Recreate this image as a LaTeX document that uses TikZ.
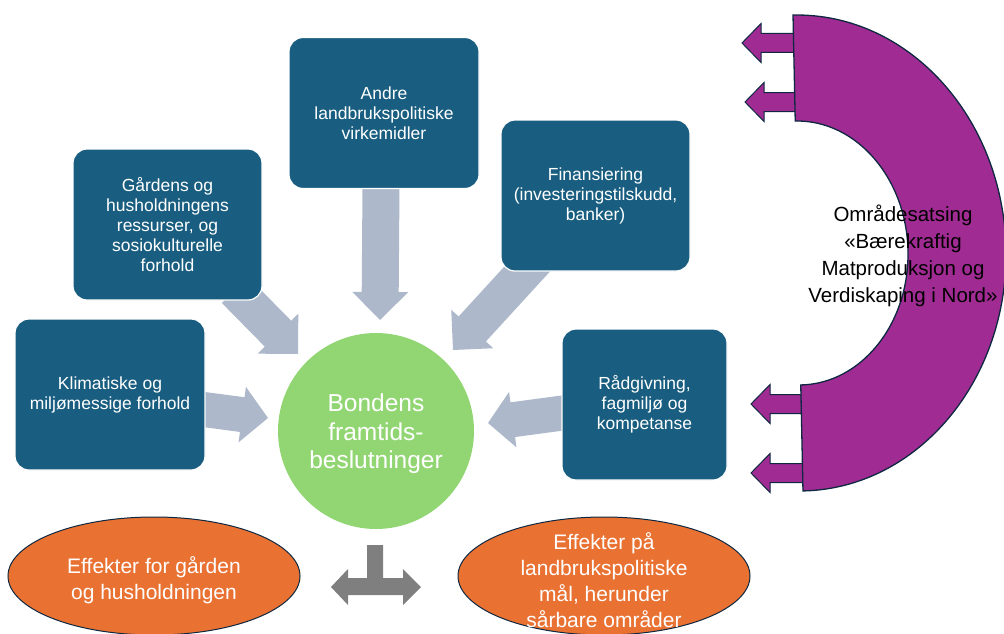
\documentclass[tikz,border=0pt]{standalone}
\usepackage{fontspec}
\setmainfont{Liberation Sans}
\usetikzlibrary{calc,shapes.geometric,backgrounds}
\definecolor{boxc}{HTML}{195E80}
\definecolor{arrg}{HTML}{ADB9CA}
\definecolor{circg}{HTML}{92D674}
\definecolor{orng}{HTML}{E97132}
\definecolor{purp}{HTML}{A02B93}
\definecolor{navy}{HTML}{0E2841}
\definecolor{tgrey}{HTML}{7F7F7F}
% block arrow: #1 start, #2 tip, #3 shaft half width, #4 head half width, #5 head length, #6 style
\newcommand{\blockarr}[6]{%
  \coordinate (tmpH) at ($(#2)!#5!(#1)$);
  \path[#6] ($(#1)!#3!90:(#2)$) -- ($(tmpH)!#3!90:(#2)$) -- ($(tmpH)!#4!90:(#2)$)
    -- (#2) -- ($(tmpH)!#4!-90:(#2)$) -- ($(tmpH)!#3!-90:(#2)$) -- ($(#1)!#3!-90:(#2)$) -- cycle;
}
\begin{document}
\begin{tikzpicture}[x=1pt,y=-1pt,
  inbox/.style={draw=white, line width=1.2pt, fill=boxc, rounded corners=14pt, text=white,
    align=center, inner sep=0pt, minimum height=151pt, font=\fontsize{17.5}{20}\selectfont},
  greyarr/.style={fill=arrg},
  purarr/.style={fill=purp, draw=navy, line width=1pt},
  effell/.style={ellipse, fill=orng, draw=navy, line width=1pt, minimum width=292pt, minimum height=118pt, inner sep=0pt},
  efftext/.style={text=white, align=center, font=\fontsize{21}{26}\selectfont},
]
\useasboundingbox (0,0) rectangle (1004,634);

% central circle
\node[circle, fill=circg, minimum size=196pt, inner sep=0pt] (M) at (376,431) {};
\node[text=white, align=center, font=\fontsize{24.5}{28.5}\selectfont] (Mt) at (376,434) {Bondens\\framtids-\\beslutninger};

% input boxes
\node[inbox, minimum width=190pt] (KA) at (110,394.5) {Klimatiske og\\miljømessige forhold};
\node[inbox, minimum width=189pt] (KB) at (167.5,224.5) {Gårdens og\\husholdningens\\ressurser, og\\sosiokulturelle\\forhold};
\node[inbox, minimum width=190pt] (KC) at (384,113) {Andre\\landbrukspolitiske\\virkemidler};
\node[inbox, minimum width=189pt] (KD) at (595.5,195.5) {Finansiering\\(investeringstilskudd,\\banker)};
\node[inbox, minimum width=165pt] (KE) at (644.5,404.5) {Rådgivning,\\fagmiljø og\\kompetanse};

% grey arrows (behind boxes)
\coordinate (aS) at (200,409);   \coordinate (aT) at (268,418);
\coordinate (bS) at (235,290);   \coordinate (bT) at (298,354);
\coordinate (cS) at (381,185);   \coordinate (cT) at (380,320);
\coordinate (dS) at (540,255);   \coordinate (dT) at (453,350);
\coordinate (eS) at (570,412);   \coordinate (eT) at (488,423);
\begin{pgfonlayer}{background}
  \blockarr{aS}{aT}{17.5pt}{28pt}{26pt}{greyarr}
  \blockarr{bS}{bT}{18.5pt}{28.5pt}{28.5pt}{greyarr}
  \blockarr{cS}{cT}{18.5pt}{28pt}{28pt}{greyarr}
  \blockarr{dS}{dT}{18.5pt}{28.5pt}{28.5pt}{greyarr}
  \blockarr{eS}{eT}{17.5pt}{28pt}{25pt}{greyarr}
\end{pgfonlayer}

% effect ellipses
\node[effell] (L) at (154,576) {};
\node[efftext] (Lt) at (154,580) {Effekter for gården\\og husholdningen};
\node[effell] (R) at (604,576) {};
\node[efftext] (Rt) at (604,580) {Effekter på\\landbrukspolitiske\\mål, herunder\\sårbare områder};

% bottom T arrow
\coordinate (T0) at (375,545);
\fill[tgrey] (367,545) -- (383,545) -- (383,578) -- (403,578) -- (403,569) -- (421,587) -- (403,605)
  -- (403,595) -- (348,595) -- (348,605) -- (331,587) -- (348,569) -- (348,578) -- (367,578) -- cycle;

% purple arrows
\coordinate (p1S) at (805,43);  \coordinate (p1T) at (742,43);
\coordinate (p2S) at (805,102); \coordinate (p2T) at (745,102);
\coordinate (p3S) at (810,404); \coordinate (p3T) at (751,404);
\coordinate (p4S) at (810,473); \coordinate (p4T) at (751,473);
\blockarr{p1S}{p1T}{9.5pt}{19.5pt}{19pt}{purarr}
\blockarr{p2S}{p2T}{9.5pt}{19.5pt}{19pt}{purarr}
\blockarr{p3S}{p3T}{9.5pt}{19.5pt}{19pt}{purarr}
\blockarr{p4S}{p4T}{9.5pt}{19.5pt}{19pt}{purarr}

% purple block arc
\begin{scope}[rotate around={1.2:(798,253)}]
  \filldraw[fill=purp, draw=navy, line width=1.3pt] (798,15)
    arc[start angle=90, end angle=-90, x radius=208pt, y radius=238pt]
    -- (798,385)
    arc[start angle=-90, end angle=90, x radius=110pt, y radius=132pt]
    -- cycle;
\end{scope}
\node[text=black, align=center, font=\fontsize{20.5}{27}\selectfont] (Om) at (903,256)
  {Områdesatsing\\«Bærekraftig\\Matproduksjon og\\Verdiskaping i Nord»};
\end{tikzpicture}
\end{document}
